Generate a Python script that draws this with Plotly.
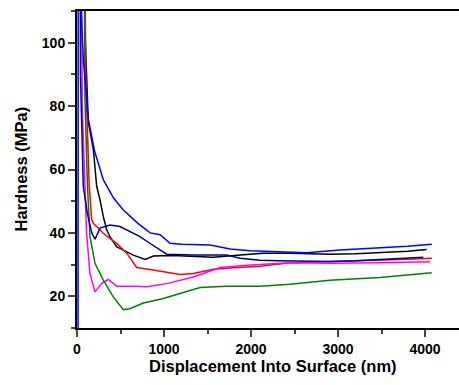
import plotly.graph_objects as go

# Bright blue series
blue_x = [12, 16, 40, 72, 130, 200, 302, 420, 530, 700, 840, 955, 1070, 1200, 1530, 1760, 1990, 2300, 2640, 3020, 3480, 3800, 4077]
blue_y = [5, 300, 115, 95, 76, 66, 56.8, 51, 47.3, 43, 40, 39.4, 36.7, 36.4, 36.2, 34.9, 34.4, 34.0, 33.7, 34.6, 35.2, 35.8, 36.4]

# Navy series
navy_x = [20, 40, 72, 120, 170, 207, 264, 379, 494, 600, 724, 850, 954, 1031, 1337, 1720, 1874, 2103, 2333, 2600, 2908, 3200, 3483, 3980]
navy_y = [300, 90, 54.7, 46, 40, 38, 41.5, 42.5, 42, 40.5, 38.8, 36.5, 34.6, 33.3, 33, 33, 32, 31.4, 31.2, 31.1, 31, 31.2, 31.6, 32.3]

# Black series
black_x = [60, 90, 130, 188, 226, 264, 302, 341, 379, 456, 494, 647, 782, 877, 1100, 1337, 1567, 1874, 2141, 2450, 2908, 3200, 3480, 3800, 4019]
black_y = [300, 105, 75, 66.3, 54.7, 50.5, 45.2, 41, 38.8, 35.6, 35.1, 33, 31.6, 32.7, 32.9, 32.7, 32.3, 33, 33.6, 33.6, 33.3, 33.4, 33.7, 34.2, 34.8]

# Red series
red_x = [55, 100, 140, 169, 188, 240, 302, 380, 456, 571, 686, 877, 1184, 1337, 1567, 1797, 2103, 2448, 2908, 3483, 3800, 4077]
red_y = [300, 90, 55, 44.1, 43, 41.5, 39.9, 38.2, 36.7, 33.6, 29.1, 28.3, 26.9, 27.2, 28.5, 29, 29.5, 30.6, 30.9, 31.4, 31.7, 32]

# Magenta series
mag_x = [25, 60, 110, 149, 207, 283, 360, 456, 686, 801, 1031, 1337, 1644, 1950, 2448, 2908, 3483, 4057]
mag_y = [300, 80, 40, 27.2, 21.4, 24, 25.3, 23.2, 23.2, 23, 24, 26.1, 29.1, 29.8, 30.6, 30.4, 30.6, 30.9]

# Green series
green_x = [50, 92, 120, 149, 207, 302, 417, 532, 609, 762, 992, 1184, 1414, 1720, 2103, 2448, 2908, 3483, 3800, 4077]
green_y = [300, 82, 55, 38.8, 30.4, 25.1, 19.8, 15.8, 16.1, 17.9, 19.3, 20.9, 22.8, 23.2, 23.2, 23.8, 25.1, 25.9, 26.6, 27.4]

series = [
    (black_x, black_y, "#000000"),
    (red_x, red_y, "#FF0000"),
    (mag_x, mag_y, "#FF00FF"),
    (green_x, green_y, "#008000"),
    (navy_x, navy_y, "#000080"),
    (blue_x, blue_y, "#0000FF"),
]

x_ticks = [0, 1000, 2000, 3000, 4000]
y_ticks = [20, 40, 60, 80, 100]
x_title = "Displacement Into Surface (nm)"
y_title = "Hardness (MPa)"

fig = go.Figure()
for xs, ys, c in series:
    fig.add_trace(go.Scatter(x=xs, y=ys, mode="lines",
                             line=dict(color=c, width=1.5), showlegend=False,
                             cliponaxis=True))

font = "Liberation Sans, Arial, sans-serif"
fig.update_layout(
    width=459, height=385,
    margin=dict(l=77, r=0, t=11, b=57),
    paper_bgcolor="white", plot_bgcolor="white",
    font=dict(family=font, color="black"),
    xaxis=dict(range=[0, 4390], tickvals=x_ticks, ticks="outside", ticklen=7, tickwidth=1.5,
               minor=dict(dtick=500, tick0=0, ticks="outside", ticklen=4, tickwidth=1.5, showgrid=False),
               showline=True, linewidth=2, linecolor="black", mirror=True,
               showgrid=False, zeroline=False, automargin=False,
               tickfont=dict(size=14, family=font, weight="bold")),
    yaxis=dict(range=[10, 110], tickvals=y_ticks, ticks="outside", ticklen=7, tickwidth=1.5,
               minor=dict(dtick=10, tick0=0, ticks="outside", ticklen=4, tickwidth=1.5, showgrid=False),
               showline=True, linewidth=2, linecolor="black", mirror=False,
               showgrid=False, zeroline=False, automargin=False,
               tickfont=dict(size=14, family=font, weight="bold")),
    annotations=[
        dict(text=f"<b>{x_title}</b>", xref="paper", yref="paper", x=0.514, y=0,
             xanchor="center", yanchor="middle", yshift=-38, showarrow=False,
             font=dict(size=16.5, family=font, color="black")),
        dict(text=f"<b>{y_title}</b>", xref="paper", yref="paper", x=0, y=0.5,
             xanchor="center", yanchor="middle", xshift=-57, textangle=-90, showarrow=False,
             font=dict(size=16.5, family=font, color="black")),
    ],
)

fig.write_html("out.html", config={"displayModeBar": False},
               post_script="document.body.style.margin='0';document.body.style.overflow='hidden';")
